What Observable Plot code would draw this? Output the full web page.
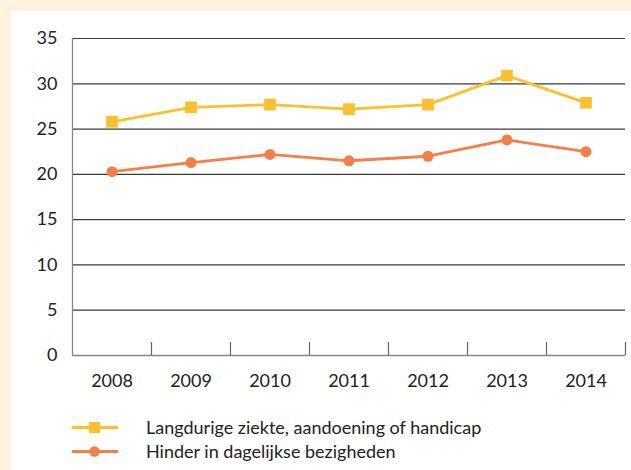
<!DOCTYPE html>
<html>
<head>
<meta charset="utf-8">
<script src="https://cdn.jsdelivr.net/npm/d3@7"></script>
<script src="https://cdn.jsdelivr.net/npm/@observablehq/plot@0.6"></script>
<style>
  html, body { margin: 0; padding: 0; }
  body { width: 631px; height: 470px; background: #FEF3E1; position: relative; overflow: hidden; font-family: Lato, "Open Sans", sans-serif; }
  #panel { position: absolute; left: 11px; top: 11px; width: 620px; height: 459px; background: #fff; }
  #chart { position: absolute; left: 0; top: 0; }
  .leg { position: absolute; left: 61px; height: 20px; display: flex; align-items: center; font-size: 18px; color: #222; white-space: nowrap; }
  .leg svg { margin-right: 28px; }
</style>
</head>
<body>
<div id="panel">
  <div id="chart"></div>
  <div id="legend"></div>
</div>
<script>
const years = [2008, 2009, 2010, 2011, 2012, 2013, 2014];
const seriesNames = ["Langdurige ziekte, aandoening of handicap", "Hinder in dagelijkse bezigheden"];
const ziekte = [25.8, 27.4, 27.7, 27.2, 27.7, 30.9, 27.9];
const hinder = [20.3, 21.3, 22.2, 21.5, 22.0, 23.8, 22.5];
const yTicks = [0, 5, 10, 15, 20, 25, 30, 35];
const colors = ["#FBC02D", "#F47F4B"];

const data = [
  ...years.map((y, i) => ({year: y, value: ziekte[i], s: seriesNames[0]})),
  ...years.map((y, i) => ({year: y, value: hinder[i], s: seriesNames[1]}))
];
const boundaries = years.map(y => y + 0.5);
const font = "Lato, 'Open Sans', sans-serif";

const chart = Plot.plot({
  width: 620,
  height: 390,
  marginLeft: 61,
  marginRight: 6,
  marginTop: 27,
  marginBottom: 46,
  style: {fontFamily: font, fontSize: "18px", color: "#222", background: "transparent"},
  x: {type: "linear", domain: [years[0] - 0.5, years[years.length - 1] + 0.5]},
  y: {domain: [0, 35]},
  color: {domain: seriesNames, range: colors},
  marks: [
    Plot.ruleY(yTicks.filter(d => d > 0), {stroke: "#3a3a3a", strokeWidth: 1.2, strokeOpacity: 1}),
    Plot.ruleY([0], {stroke: "#888", strokeWidth: 1.3}),
    Plot.ruleX([years[0] - 0.5], {stroke: "#888", strokeWidth: 1.3}),
    Plot.axisY({ticks: yTicks, tickSize: 0, tickPadding: 15, tickFormat: d => String(d), fill: "#222", label: null}),
    Plot.axisX({ticks: years, tickSize: 0, tickPadding: 19, tickFormat: d => String(d), fill: "#222", label: null}),
    Plot.axisX({ticks: boundaries, tickSize: -13, tickFormat: () => "", stroke: "#666", strokeWidth: 1.2, label: null}),
    Plot.line(data, {x: "year", y: "value", stroke: "s", strokeWidth: 2.8}),
    Plot.dot(data.filter(d => d.s === seriesNames[0]), {x: "year", y: "value", fill: colors[0], symbol: "square", r: 6.6}),
    Plot.dot(data.filter(d => d.s === seriesNames[1]), {x: "year", y: "value", fill: colors[1], symbol: "circle", r: 5.5})
  ]
});
document.getElementById("chart").appendChild(chart);

const legend = document.getElementById("legend");
seriesNames.forEach((name, i) => {
  const row = document.createElement("div");
  row.className = "leg";
  row.style.top = (i === 0 ? 406 : 430) + "px";
  const marker = i === 0
    ? `<rect x="17" y="5" width="11" height="11" fill="${colors[i]}"/>`
    : `<circle cx="22.5" cy="10.5" r="5.2" fill="${colors[i]}"/>`;
  row.innerHTML = `<svg width="46" height="20"><line x1="0" x2="46" y1="10.5" y2="10.5" stroke="${colors[i]}" stroke-width="2.8"/>${marker}</svg><span>${name}</span>`;
  legend.appendChild(row);
});
</script>
</body>
</html>
